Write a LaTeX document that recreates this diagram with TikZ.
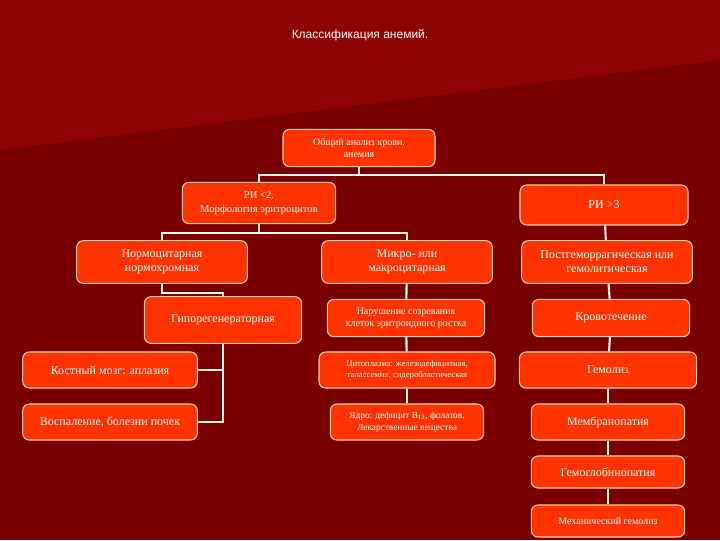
\documentclass[tikz,border=0pt]{standalone}
\usepackage{fontspec}
\setmainfont{Liberation Serif}
\newfontfamily\titlefont{Liberation Sans}
\definecolor{bgdark}{HTML}{780000}
\definecolor{bglight}{HTML}{8E0303}
\definecolor{boxfill}{HTML}{FF3300}
\definecolor{boxline}{HTML}{FFD0B0}
\begin{document}
\begin{tikzpicture}[x=0.75pt,y=-0.75pt,
  box/.style={draw=boxline,line width=0.8pt,fill=boxfill,rounded corners=5pt,text=white,align=center,font=\fontsize{9}{10.5}\selectfont,inner sep=0pt},
  small/.style={box,font=\fontsize{6.5}{8}\selectfont},
  link/.style={draw=white!92!orange,line width=1.6pt}]
\fill[bgdark] (0,0) rectangle (720,540);
\fill[bglight] (0,0) -- (720,0) -- (720,60) -- (0,150) -- cycle;
\useasboundingbox (0,0) rectangle (720,540);
\node[text=white,font=\titlefont\fontsize{9}{11}\selectfont] (title) at (360,35) {Классификация анемий.};
\node[box,font=\fontsize{7.5}{9}\selectfont,minimum width=114pt,minimum height=28pt] (ob) at (359,148) {Общий анализ крови.\\анемия};
\node[box,font=\fontsize{8}{10}\selectfont,minimum width=115pt,minimum height=31pt] (ri2) at (259,203) {РИ <2.\\Морфология эритроцитов};
\node[box,minimum width=126pt,minimum height=30pt] (ri3) at (604,205) {РИ >3};
\node[box,minimum width=128pt,minimum height=32pt] (norm) at (162,262) {Нормоцитарная\\нормохромная};
\node[box,minimum width=128pt,minimum height=32pt] (micro) at (407,262) {Микро- или\\макроцитарная};
\node[box,minimum width=128pt,minimum height=32pt] (post) at (607,262) {Постгеморрагическая или\\гемолитическая};
\node[box,minimum width=118pt,minimum height=35pt] (gipo) at (223,320) {Гипорегенераторная};
\node[box,font=\fontsize{7.5}{9}\selectfont,minimum width=118pt,minimum height=28pt] (narush) at (406,318) {Нарушение созревания\\клеток эритроидного ростка};
\node[box,minimum width=118pt,minimum height=28pt] (krov) at (611,318) {Кровотечение};
\node[box,minimum width=131pt,minimum height=27pt] (kost) at (110,370) {Костный мозг: аплазия};
\node[box,minimum width=131pt,minimum height=27pt] (vosp) at (110,422) {Воспаление, болезни почек};
\node[small,minimum width=132pt,minimum height=27pt] (cito) at (407,370) {Цитоплазма: железодефицитная,\\талассемия, сидеробластическая};
\node[box,minimum width=133pt,minimum height=27pt] (gemoliz) at (608,370) {Гемолиз};
\node[small,font=\fontsize{7}{9}\selectfont,minimum width=115pt,minimum height=27pt] (yadro) at (407,422) {Ядро: дефицит B\textsubscript{12}, фолатов.\\Лекарственные вещества};
\node[box,minimum width=115pt,minimum height=27pt] (memb) at (608,422) {Мембранопатия};
\node[box,minimum width=115pt,minimum height=24pt] (gemogl) at (608,472) {Гемоглобинопатия};
\node[box,font=\fontsize{7.5}{9}\selectfont,minimum width=115pt,minimum height=24pt] (mech) at (608,521) {Механический гемолиз};
\draw[link] (ob.south) -- ++(0,8) -| (ri2.north);
\draw[link] (ob.south) -- ++(0,8) -| (ri3.north);
\draw[link] (ri2.south) -- ++(0,9) -| (norm.north);
\draw[link] (ri2.south) -- ++(0,9) -| (micro.north);
\draw[link] (norm.south) -- ++(0,9) -| (gipo.north);
\draw[link] (gipo.south) |- (kost.east);
\draw[link] (gipo.south) |- (vosp.east);
\draw[link] (micro) -- (narush);
\draw[link] (narush) -- (cito);
\draw[link] (cito) -- (yadro);
\draw[link] (ri3) -- (post);
\draw[link] (post) -- (krov);
\draw[link] (krov) -- (gemoliz);
\draw[link] (gemoliz) -- (memb);
\draw[link] (memb) -- (gemogl);
\draw[link] (gemogl) -- (mech);
\end{tikzpicture}
\end{document}
